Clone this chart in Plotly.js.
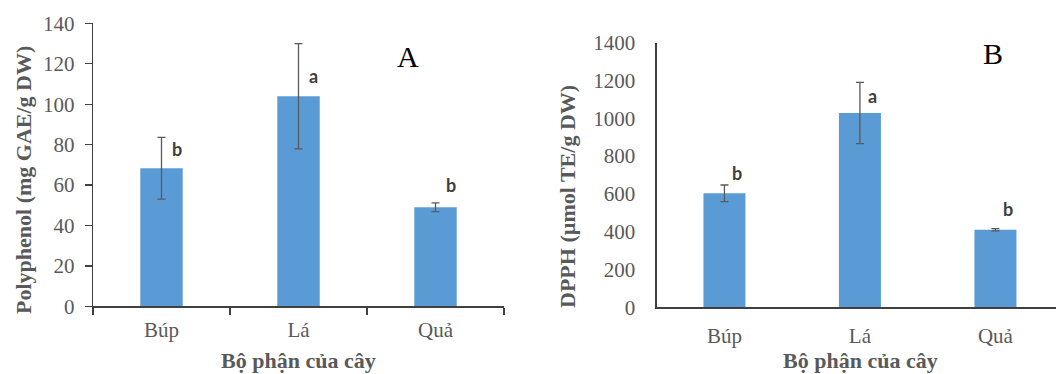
<!DOCTYPE html>
<html>
<head>
<meta charset="utf-8">
<script src="https://cdn.plot.ly/plotly-3.0.1.min.js"></script>
<style>html,body{margin:0;padding:0;background:#fff;}#chart{width:1056px;height:374px;}</style>
</head>
<body>
<div id="chart"></div>
<script>
// Data
const categories = ["Búp", "Lá", "Quả"];
const polyphenolValues = [68.3, 103.9, 49.0];
const polyphenolErrors = [15.3, 26.0, 2.2];
const polyphenolLetters = ["b", "a", "b"];
const polyphenolLetterY = [78, 114, 60];
const dpphValues = [603, 1028, 410];
const dpphErrors = [44, 162, 6];
const dpphLetters = ["b", "a", "b"];
const dpphLetterY = [709, 1117, 518];
const yTicksA = [0, 20, 40, 60, 80, 100, 120, 140];
const yTicksB = [0, 200, 400, 600, 800, 1000, 1200, 1400];
const panelLabels = ["A", "B"];
const xTitle = "Bộ phận của cây";
const yTitleA = "Polyphenol (mg GAE/g DW)";
const yTitleB = "DPPH (µmol TE/g DW)";

const barColor = "#5B9BD5";
const errColor = "#595959";
const textColor = "#595959";
const serif = "Liberation Serif, Times New Roman, serif";

const traces = [
  {
    type: "bar", x: categories, y: polyphenolValues, xaxis: "x", yaxis: "y",
    width: 0.31, marker: {color: barColor},
    error_y: {type: "data", array: polyphenolErrors, visible: true, color: errColor, thickness: 1.3, width: 4},
    hoverinfo: "x+y", showlegend: false
  },
  {
    type: "bar", x: categories, y: dpphValues, xaxis: "x2", yaxis: "y2",
    width: 0.31, marker: {color: barColor},
    error_y: {type: "data", array: dpphErrors, visible: true, color: errColor, thickness: 1.3, width: 4},
    hoverinfo: "x+y", showlegend: false
  }
];

const letterFont = {family: "Lato, Open Sans, sans-serif", size: 18, color: "#404040"};
const annotations = [];
categories.forEach((c, i) => {
  annotations.push({xref: "x", yref: "y", x: i + 0.11, y: polyphenolLetterY[i], text: "<b>" + polyphenolLetters[i] + "</b>",
    showarrow: false, font: letterFont});
  annotations.push({xref: "x2", yref: "y2", x: i + 0.09, y: dpphLetterY[i], text: "<b>" + dpphLetters[i] + "</b>",
    showarrow: false, font: letterFont});
});
annotations.push({xref: "x", yref: "y", x: 1.8, y: 123.5, text: panelLabels[0], showarrow: false,
  font: {family: serif, size: 30, color: "#000"}});
annotations.push({xref: "x2", yref: "y2", x: 1.985, y: 1343, text: panelLabels[1], showarrow: false,
  font: {family: serif, size: 30, color: "#000"}});
// axis titles (placed like the original, which offsets them from the plot centre)
const titleFont = {family: serif, size: 22, color: textColor};
annotations.push({xref: "paper", yref: "paper", x: 23/1056, y: (374-180)/374, text: "<b>" + yTitleA + "</b>",
  textangle: -90, showarrow: false, font: titleFont, xanchor: "center", yanchor: "middle"});
annotations.push({xref: "paper", yref: "paper", x: 567/1056, y: (374-197)/374, text: "<b>" + yTitleB + "</b>",
  textangle: -90, showarrow: false, font: titleFont, xanchor: "center", yanchor: "middle"});
annotations.push({xref: "paper", yref: "paper", x: 298/1056, y: 0, text: "<b>" + xTitle + "</b>",
  showarrow: false, font: titleFont, xanchor: "center", yanchor: "bottom", yshift: -1});
annotations.push({xref: "paper", yref: "paper", x: 860/1056, y: 0, text: "<b>" + xTitle + "</b>",
  showarrow: false, font: titleFont, xanchor: "center", yanchor: "bottom", yshift: -1});

const axisLine = "#404040";
const tickFont = {family: serif, size: 21, color: textColor};
const layout = {
  width: 1056, height: 374,
  margin: {l: 0, r: 0, t: 0, b: 0},
  paper_bgcolor: "#fff", plot_bgcolor: "#fff",
  showlegend: false,
  bargap: 0.69,
  xaxis: {
    domain: [93/1056, 504/1056], anchor: "y",
    type: "category", range: [-0.5, 2.5],
    showline: true, linecolor: axisLine, linewidth: 1.3,
    ticks: "outside", tickson: "boundaries", ticklen: 7, tickcolor: axisLine, tickwidth: 1.3,
    ticklabelstandoff: 4,
    tickfont: tickFont,
    showgrid: false, zeroline: false, automargin: false
  },
  yaxis: {
    domain: [(374-306.3)/374, (374-23.3)/374], anchor: "x",
    range: [0, 140], tickvals: yTicksA,
    showline: true, linecolor: axisLine, linewidth: 1.3,
    ticks: "outside", ticklen: 7, tickcolor: axisLine, tickwidth: 1.3,
    ticklabelstandoff: 6,
    tickfont: tickFont,
    showgrid: false, zeroline: false, automargin: false
  },
  xaxis2: {
    domain: [656.7/1056, 1], anchor: "y2",
    type: "category", range: [-0.5, 2.447],
    showline: true, linecolor: axisLine, linewidth: 1.3,
    ticks: "", ticklabelstandoff: 9,
    tickfont: tickFont,
    showgrid: false, zeroline: false, automargin: false
  },
  yaxis2: {
    domain: [(374-307.3)/374, (374-42.7)/374], anchor: "x2",
    range: [0, 1400], tickvals: yTicksB,
    showline: true, linecolor: axisLine, linewidth: 1.3,
    ticks: "", ticklabelstandoff: 16,
    tickfont: tickFont,
    showgrid: false, zeroline: false, automargin: false
  },
  annotations: annotations
};

Plotly.newPlot("chart", traces, layout, {displayModeBar: false, staticPlot: true});
</script>
</body>
</html>
